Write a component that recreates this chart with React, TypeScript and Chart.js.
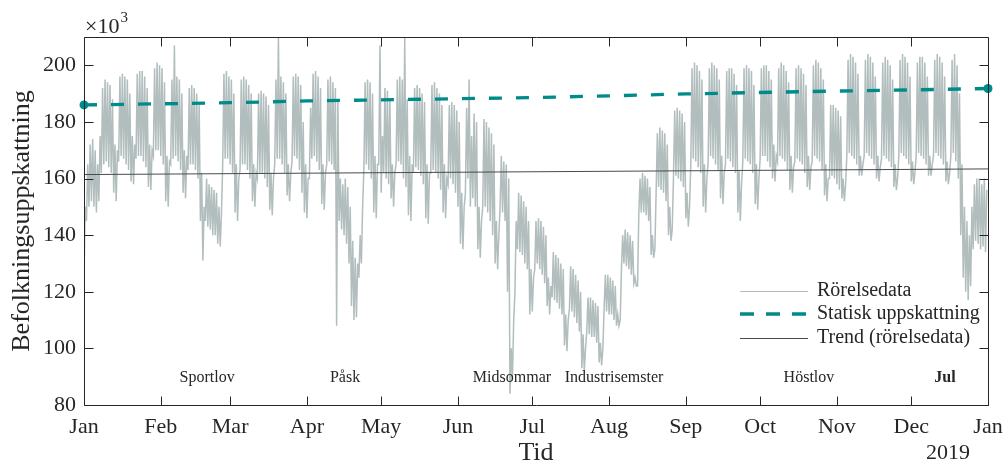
import React, { useEffect, useRef } from 'react';
import { Chart, registerables } from 'chart.js';

Chart.register(...registerables);

// ---- Axis / tick data ----
const monthLabels = ['Jan', 'Feb', 'Mar', 'Apr', 'May', 'Jun', 'Jul', 'Aug', 'Sep', 'Oct', 'Nov', 'Dec', 'Jan'];
const monthStartDays = [0, 31, 59, 90, 120, 151, 181, 212, 243, 273, 304, 334, 365];
const yTicks = [80, 100, 120, 140, 160, 180, 200];

// ---- Rörelsedata: daily peak (day) values, thousands, one per day of 2018 (rows = Mon..Sun weeks) ----
const dailyHigh = [
  150, 165, 172, 174, 170, 165, 175,
  192, 195, 194, 193, 188, 172, 170,
  196, 197, 196, 195, 190, 175, 172,
  197, 198, 198, 196, 192, 172, 170,
  199, 201, 200, 199, 194, 168, 166,
  195, 207, 196, 195, 190, 170, 168,
  192, 193, 192, 190, 186, 162, 150,
  160, 158, 157, 156, 155, 150, 148,
  197, 198, 196, 195, 190, 165, 160,
  195, 196, 195, 193, 190, 165, 162,
  190, 191, 190, 189, 186, 162, 160,
  195, 210, 196, 194, 190, 165, 162,
  196, 197, 196, 193, 180, 165, 160,
  185, 197, 198, 196, 192, 165, 162,
  195, 196, 194, 192, 188, 160, 158,
  160, 157, 150, 138, 132, 130, 140,
  150, 194, 195, 194, 190, 168, 165,
  207, 175, 192, 191, 188, 165, 162,
  195, 196, 195, 210, 188, 168, 165,
  192, 193, 192, 190, 187, 165, 162,
  193, 194, 192, 190, 186, 165, 160,
  186, 187, 186, 184, 180, 155, 150,
  185, 195, 175, 183, 180, 150, 145,
  181, 180, 178, 176, 172, 145, 140,
  168, 166, 165, 160, 100, 110, 145,
  155, 154, 152, 150, 145, 128, 125,
  145, 146, 145, 143, 140, 125, 122,
  134, 133, 132, 130, 128, 112, 110,
  129, 128, 126, 124, 120, 105, 100,
  118, 118, 117, 116, 115, 102, 100,
  126, 126, 125, 124, 122, 112, 110,
  140, 142, 141, 140, 138, 125, 122,
  160, 162, 161, 160, 157, 140, 135,
  176, 178, 177, 176, 172, 150, 142,
  184, 185, 184, 183, 180, 155, 150,
  199, 201, 200, 198, 195, 165, 160,
  199, 201, 200, 199, 195, 168, 162,
  198, 199, 199, 197, 193, 163, 158,
  199, 200, 199, 198, 193, 165, 160,
  199, 200, 200, 198, 195, 172, 168,
  199, 201, 200, 198, 194, 168, 164,
  199, 200, 199, 197, 193, 168, 164,
  200, 202, 201, 199, 195, 165, 160,
  186, 186, 185, 184, 182, 160, 158,
  202, 204, 203, 201, 197, 168, 165,
  202, 204, 203, 201, 196, 168, 164,
  201, 203, 202, 200, 195, 165, 160,
  202, 204, 203, 201, 196, 166, 162,
  201, 203, 203, 201, 196, 168, 165,
  202, 204, 203, 201, 196, 166, 162,
  202, 204, 200, 190, 165, 150, 145,
  140, 150, 158, 160, 160, 158, 160,
  156,
];

// ---- Rörelsedata: daily trough (night) values ----
const dailyLow = [
  125, 145, 150, 152, 150, 148, 152,
  162, 165, 166, 164, 162, 155, 152,
  166, 168, 167, 165, 163, 159, 158,
  167, 168, 168, 166, 164, 157, 156,
  168, 170, 170, 168, 165, 152, 150,
  165, 167, 168, 166, 163, 155, 153,
  163, 165, 165, 163, 160, 145, 131,
  145, 143, 142, 140, 140, 137, 136,
  165, 167, 167, 165, 162, 148, 145,
  163, 165, 165, 163, 160, 152, 150,
  160, 162, 162, 160, 157, 149, 147,
  165, 167, 167, 165, 162, 154, 152,
  166, 168, 167, 163, 155, 148, 146,
  160, 167, 168, 166, 163, 151, 149,
  165, 166, 165, 163, 108, 145, 142,
  140, 137, 130, 115, 110, 111, 125,
  130, 163, 165, 163, 160, 148, 146,
  165, 155, 162, 160, 158, 153, 150,
  165, 166, 165, 160, 157, 147, 145,
  162, 164, 163, 161, 158, 146, 144,
  162, 163, 162, 160, 156, 148, 146,
  158, 160, 158, 155, 150, 137, 135,
  155, 160, 150, 153, 150, 135, 132,
  150, 150, 148, 145, 140, 130, 128,
  150, 148, 145, 120, 84, 90, 120,
  135, 134, 133, 130, 128, 112, 113,
  128, 130, 128, 126, 123, 115, 112,
  118, 117, 116, 114, 112, 101, 99,
  114, 113, 111, 109, 106, 93, 92,
  106, 105, 104, 104, 102, 95, 94,
  114, 113, 112, 112, 110, 108, 108,
  128, 130, 129, 128, 126, 123, 122,
  147, 148, 148, 147, 145, 133, 132,
  155, 157, 156, 155, 152, 140, 138,
  160, 161, 160, 159, 157, 146, 143,
  165, 167, 166, 164, 162, 150, 148,
  166, 168, 167, 165, 163, 153, 151,
  165, 167, 166, 164, 162, 148, 145,
  166, 167, 166, 165, 162, 151, 149,
  167, 168, 168, 166, 164, 160, 159,
  166, 168, 167, 166, 163, 156, 155,
  166, 167, 166, 165, 162, 157, 156,
  166, 168, 167, 166, 163, 154, 152,
  160, 161, 160, 158, 156, 153, 152,
  168, 169, 168, 167, 165, 161, 161,
  168, 169, 168, 167, 165, 160, 159,
  167, 168, 167, 166, 164, 157, 156,
  168, 169, 168, 167, 165, 159, 158,
  168, 169, 168, 167, 165, 161, 161,
  168, 169, 168, 167, 165, 159, 158,
  168, 169, 166, 160, 140, 125, 120,
  117, 122, 135, 138, 137, 135, 136,
  134,
];

// ---- Statisk uppskattning (monthly, thousands) ----
const estimateDays = [0, 31, 59, 90, 120, 151, 181, 212, 243, 273, 304, 334, 365];
const estimateValues = [186.0, 186.4, 186.8, 187.4, 187.8, 188.2, 188.6, 189.2, 189.9, 190.4, 190.9, 191.3, 191.8];

// ---- Trend (rörelsedata) ----
const trendDays = [0, 365];
const trendValues = [161.4, 163.4];

// ---- Holiday annotations ----
const holidayNames = ['Sportlov', 'Påsk', 'Midsommar', 'Industrisemster', 'Höstlov', 'Jul'];
const holidayDays = [49.7, 105.4, 172.8, 214, 292.7, 347.6];
const holidayLevel = 89.5;

const legendLabels = ['Rörelsedata', 'Statisk uppskattning', 'Trend (rörelsedata)'];

const SERIF = "'Liberation Serif', 'Times New Roman', serif";
const TEXT = '#262626';
const GRAY = 'rgb(178,189,189)';
const TEAL = '#008b8b';
const TREND = '#4a4a4a';

const overlayPlugin = {
  id: 'overlay',
  afterDraw(chart: any) {
    const { ctx, chartArea: a, scales } = chart;
    const xs = scales.x;
    const ys = scales.y;
    ctx.save();
    // axes box
    ctx.strokeStyle = TEXT;
    ctx.lineWidth = 1;
    const L = Math.round(a.left) + 0.5;
    const R = Math.round(a.right) + 0.5;
    const T = Math.round(a.top) + 0.5;
    const B = Math.round(a.bottom) + 0.5;
    ctx.beginPath();
    ctx.moveTo(L, T); ctx.lineTo(R, T); ctx.lineTo(R, B); ctx.lineTo(L, B); ctx.closePath();
    // inward ticks
    for (const d of monthStartDays) {
      const px = Math.round(xs.getPixelForValue(d)) + 0.5;
      ctx.moveTo(px, B); ctx.lineTo(px, B - 9);
      ctx.moveTo(px, T); ctx.lineTo(px, T + 9);
    }
    for (const v of yTicks) {
      const py = Math.round(ys.getPixelForValue(v)) + 0.5;
      ctx.moveTo(L, py); ctx.lineTo(L + 9, py);
      ctx.moveTo(R, py); ctx.lineTo(R - 9, py);
    }
    ctx.stroke();

    ctx.fillStyle = TEXT;
    // holiday annotations
    ctx.textAlign = 'center';
    ctx.textBaseline = 'middle';
    holidayNames.forEach((name, i) => {
      ctx.font = name === 'Jul' ? `bold 16px ${SERIF}` : `16px ${SERIF}`;
      ctx.fillText(name, xs.getPixelForValue(holidayDays[i]), ys.getPixelForValue(holidayLevel));
    });

    // axis titles
    ctx.font = `26px ${SERIF}`;
    ctx.textAlign = 'center';
    ctx.textBaseline = 'middle';
    ctx.fillText('Tid', (a.left + a.right) / 2, 453);
    ctx.save();
    ctx.translate(22, (a.top + a.bottom) / 2);
    ctx.rotate(-Math.PI / 2);
    ctx.fillText('Befolkningsuppskattning', 0, 0);
    ctx.restore();

    // exponent label
    ctx.textAlign = 'left';
    ctx.textBaseline = 'alphabetic';
    ctx.font = `22px ${SERIF}`;
    ctx.fillText('×10', 85, 33);
    const w = ctx.measureText('×10').width;
    ctx.font = `15px ${SERIF}`;
    ctx.fillText('3', 85 + w + 1, 22);

    // year label under last tick
    ctx.font = `22px ${SERIF}`;
    ctx.textAlign = 'center';
    ctx.textBaseline = 'middle';
    ctx.fillText('2019', 948, 453);

    // legend
    const rows = [291, 314, 338];
    const x0 = 740, x1 = 808;
    ctx.lineWidth = 1;
    ctx.strokeStyle = GRAY;
    ctx.setLineDash([]);
    ctx.beginPath(); ctx.moveTo(x0, rows[0] + 0.5); ctx.lineTo(x1, rows[0] + 0.5); ctx.stroke();
    ctx.lineWidth = 3.3;
    ctx.strokeStyle = TEAL;
    ctx.setLineDash([14, 12]);
    ctx.beginPath(); ctx.moveTo(x0, rows[1]); ctx.lineTo(x1, rows[1]); ctx.stroke();
    ctx.setLineDash([]);
    ctx.lineWidth = 1;
    ctx.strokeStyle = TREND;
    ctx.beginPath(); ctx.moveTo(x0, rows[2] + 0.5); ctx.lineTo(x1, rows[2] + 0.5); ctx.stroke();

    ctx.font = `20px ${SERIF}`;
    ctx.textAlign = 'left';
    ctx.textBaseline = 'middle';
    ctx.fillStyle = TEXT;
    legendLabels.forEach((t, i) => ctx.fillText(t, 817, rows[i]));

    ctx.restore();
  },
};

export default function App() {
  const ref = useRef<HTMLCanvasElement>(null);

  useEffect(() => {
    const movement: { x: number; y: number }[] = [];
    for (let d = 0; d < dailyHigh.length; d++) {
      movement.push({ x: d, y: dailyLow[d] });
      movement.push({ x: d + 0.5, y: dailyHigh[d] });
    }
    const estimate = estimateDays.map((d, i) => ({ x: d, y: estimateValues[i] }));
    const trend = trendDays.map((d, i) => ({ x: d, y: trendValues[i] }));
    const lastIdx = estimate.length - 1;

    const chart = new Chart(ref.current as HTMLCanvasElement, {
      type: 'line',
      data: {
        datasets: [
          {
            label: 'Statisk uppskattning',
            data: estimate,
            borderColor: TEAL,
            backgroundColor: TEAL,
            borderWidth: 3.3,
            borderDash: [13, 14],
            pointRadius: (c: any) => (c.dataIndex === 0 || c.dataIndex === lastIdx ? 4.5 : 0),
            pointBackgroundColor: TEAL,
            pointBorderWidth: 0,
            tension: 0,
            clip: false,
            order: 1,
          },
          {
            label: 'Trend (rörelsedata)',
            data: trend,
            borderColor: TREND,
            borderWidth: 1,
            pointRadius: 0,
            tension: 0,
            order: 2,
          },
          {
            label: 'Rörelsedata',
            data: movement,
            borderColor: GRAY,
            borderWidth: 1.5,
            pointRadius: 0,
            tension: 0,
            order: 3,
          },
        ],
      } as any,
      options: {
        animation: false,
        responsive: false,
        events: [],
        layout: { padding: { top: 37, right: 17, left: 0, bottom: 0 } },
        plugins: { legend: { display: false }, tooltip: { enabled: false } },
        scales: {
          x: {
            type: 'linear',
            min: 0,
            max: 365,
            grid: { display: false, drawTicks: false },
            border: { display: false },
            afterBuildTicks: (s: any) => {
              s.ticks = monthStartDays.map((v) => ({ value: v }));
            },
            afterFit: (s: any) => {
              s.height = 58;
              s.paddingLeft = 0;
              s.paddingRight = 0;
            },
            ticks: {
              autoSkip: false,
              maxRotation: 0,
              padding: 9,
              color: TEXT,
              font: { family: SERIF, size: 22 },
              callback: (_v: any, i: number) => monthLabels[i],
            },
          },
          y: {
            type: 'linear',
            min: 80,
            max: 210,
            grid: { display: false, drawTicks: false },
            border: { display: false },
            afterBuildTicks: (s: any) => {
              s.ticks = yTicks.map((v) => ({ value: v }));
            },
            afterFit: (s: any) => {
              s.width = 84;
              s.paddingTop = 0;
              s.paddingBottom = 0;
            },
            ticks: {
              padding: 8,
              color: TEXT,
              font: { family: SERIF, size: 22 },
              callback: (v: any) => String(v),
            },
          },
        },
      } as any,
      plugins: [overlayPlugin],
    });
    return () => chart.destroy();
  }, []);

  return (
    <div style={{ position: 'absolute', left: 0, top: 0, width: 1005, height: 463, background: '#ffffff' }}>
      <canvas ref={ref} width={1005} height={463} style={{ display: 'block', width: 1005, height: 463 }} />
    </div>
  );
}
